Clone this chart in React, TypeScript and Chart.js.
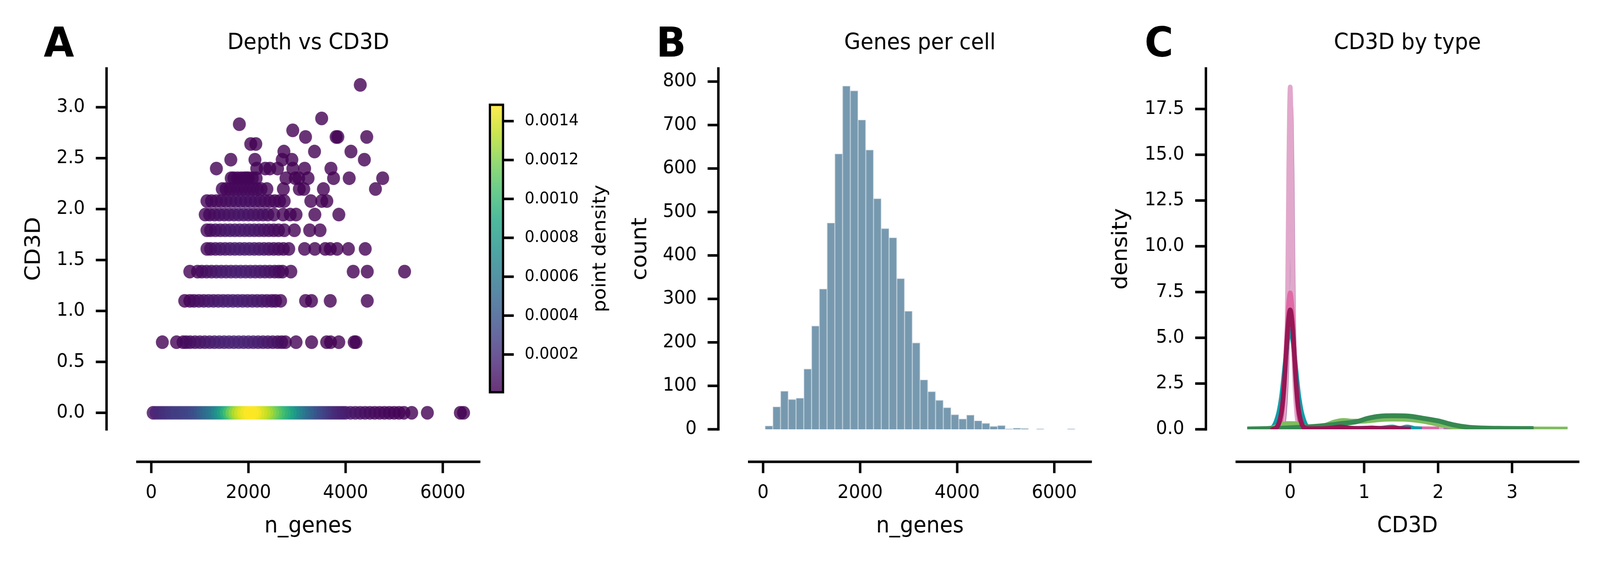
import React, { useEffect, useRef } from 'react';
import { Chart, registerables } from 'chart.js';

Chart.register(...registerables);

const FONT = '"DejaVu Sans", "Liberation Sans", sans-serif';
Chart.defaults.font.family = FONT;
const W = 4321;
const H = 1440;

// ---------------- Panel A data: CD3D vs n_genes ----------------
const cd3dLevels = [0, 0.693, 1.099, 1.386, 1.609, 1.792, 1.946, 2.079, 2.197, 2.303, 2.398, 2.485, 2.565, 2.639, 2.708, 2.773, 2.833, 2.89, 3.219];

const genesByLevel = [
  [39, 100, 160, 220, 280, 340, 400, 460, 520, 580, 640, 700, 760, 820, 880, 940, 1000, 1060, 1120, 1180, 1240, 1300, 1360, 1420, 1480, 1540, 1600, 1660, 1720, 1780, 1840, 1900, 1960, 2020, 2080, 2140, 2200, 2260, 2320, 2380, 2440, 2500, 2560, 2620, 2680, 2740, 2800, 2860, 2920, 2980, 3040, 3100, 3160, 3220, 3280, 3340, 3400, 3460, 3520, 3580, 3640, 3700, 3760, 3820, 3880, 3940, 4000, 4100, 4200, 4300, 4400, 4500, 4600, 4700, 4800, 4900, 5000, 5100, 5200, 5360, 5683, 6362, 6428],
  [228, 520, 654, 720, 800, 900, 1000, 1100, 1200, 1300, 1400, 1500, 1600, 1700, 1800, 1900, 2000, 2100, 2200, 2300, 2400, 2500, 2600, 2684, 2760, 2980, 3300, 3610, 3690, 3860, 4176, 4214],
  [688, 793, 880, 980, 1080, 1180, 1280, 1380, 1480, 1580, 1680, 1780, 1880, 1980, 2080, 2180, 2280, 2380, 2480, 2560, 2662, 3176, 3298, 3684, 4446],
  [793, 952, 1040, 1140, 1240, 1340, 1440, 1540, 1640, 1740, 1840, 1940, 2040, 2140, 2240, 2340, 2440, 2540, 2626, 2700, 2873, 4157, 4446, 5214],
  [1146, 1220, 1320, 1420, 1520, 1620, 1720, 1820, 1920, 2020, 2120, 2220, 2320, 2420, 2520, 2620, 2720, 2830, 3155, 3367, 3580, 3684, 3824, 4058, 4404],
  [1146, 1220, 1320, 1420, 1520, 1620, 1720, 1820, 1920, 2020, 2120, 2220, 2320, 2420, 2521, 2620, 2736, 2946, 3260, 3474],
  [1110, 1200, 1300, 1400, 1500, 1600, 1700, 1800, 1900, 2000, 2100, 2200, 2300, 2400, 2521, 2714, 2860, 2980, 3367, 3861],
  [1146, 1240, 1340, 1440, 1540, 1640, 1740, 1840, 1940, 2040, 2140, 2240, 2340, 2440, 2540, 2640, 2736, 3284, 3509, 3614],
  [1461, 1540, 1620, 1700, 1780, 1860, 1940, 2020, 2100, 2180, 2260, 2380, 2719, 3047, 3139, 3543, 4615],
  [1645, 1700, 1775, 1850, 1915, 1960, 2002, 2080, 2159, 2772, 2964, 3034, 3227, 3752, 4074, 4763],
  [1340, 2170, 2345, 2440, 2600, 2913, 3157, 3698],
  [1637, 2134, 2695, 2894, 4386],
  [2730, 3360, 4110],
  [2047, 2152],
  [3175, 3805, 3840, 4435],
  [2912],
  [1813],
  [3507],
  [4302],
];

// point density, in units of 1e-4
const densityByLevel = [
  [0.45, 1.5, 1.8, 1.8, 2.1, 2.2, 2.4, 2.5, 2.7, 2.7, 2.8, 3.0, 3.0, 3.1, 3.4, 3.7, 4.0, 4.5, 4.9, 5.3, 5.8, 6.2, 7.0, 7.7, 8.6, 9.5, 10.5, 11.6, 12.5, 13.2, 13.8, 14.3, 14.6, 14.85, 14.85, 14.6, 14.1, 13.8, 13.4, 12.9, 12.3, 11.7, 11.1, 10.5, 9.9, 9.4, 8.8, 8.2, 7.4, 6.8, 6.2, 5.6, 5.0, 4.6, 4.2, 3.7, 3.4, 3.0, 2.7, 2.4, 2.1, 1.8, 1.6, 1.5, 1.3, 1.2, 1.0, 0.9, 0.74, 0.6, 0.52, 0.45, 0.37, 0.3, 0.22, 0.18, 0.15, 0.12, 0.09, 0.06, 0.03, 0.015, 0.015],
  [0.05, 0.15, 0.3, 0.4, 0.5, 0.6, 0.75, 0.9, 1.05, 1.2, 1.3, 1.4, 1.45, 1.5, 1.5, 1.45, 1.4, 1.3, 1.2, 1.05, 0.9, 0.7, 0.5, 0.35, 0.25, 0.15, 0.08, 0.05, 0.05, 0.04, 0.03, 0.03],
  [0.1, 0.2, 0.35, 0.5, 0.65, 0.8, 0.95, 1.05, 1.15, 1.2, 1.25, 1.25, 1.2, 1.15, 1.05, 0.95, 0.8, 0.65, 0.5, 0.35, 0.25, 0.1, 0.08, 0.05, 0.02],
  [0.12, 0.25, 0.4, 0.55, 0.7, 0.85, 1.0, 1.1, 1.2, 1.25, 1.25, 1.2, 1.15, 1.05, 0.9, 0.75, 0.6, 0.45, 0.3, 0.2, 0.12, 0.03, 0.02, 0.01],
  [0.35, 0.5, 0.65, 0.8, 0.95, 1.05, 1.15, 1.2, 1.2, 1.15, 1.05, 0.95, 0.8, 0.65, 0.5, 0.38, 0.28, 0.2, 0.1, 0.07, 0.05, 0.05, 0.04, 0.03, 0.02],
  [0.3, 0.42, 0.55, 0.68, 0.8, 0.9, 0.98, 1.02, 1.0, 0.95, 0.88, 0.78, 0.65, 0.5, 0.38, 0.28, 0.2, 0.12, 0.07, 0.05],
  [0.22, 0.32, 0.42, 0.52, 0.62, 0.7, 0.76, 0.8, 0.8, 0.76, 0.7, 0.62, 0.52, 0.4, 0.28, 0.16, 0.1, 0.08, 0.04, 0.02],
  [0.15, 0.22, 0.3, 0.38, 0.45, 0.52, 0.56, 0.58, 0.58, 0.55, 0.5, 0.44, 0.36, 0.28, 0.2, 0.14, 0.1, 0.04, 0.03, 0.03],
  [0.18, 0.24, 0.28, 0.32, 0.35, 0.36, 0.36, 0.34, 0.31, 0.27, 0.22, 0.16, 0.08, 0.05, 0.04, 0.02, 0.005],
  [0.18, 0.2, 0.23, 0.25, 0.26, 0.26, 0.25, 0.23, 0.2, 0.08, 0.06, 0.05, 0.04, 0.02, 0.01, 0.005],
  [0.06, 0.14, 0.12, 0.1, 0.08, 0.05, 0.04, 0.02],
  [0.08, 0.1, 0.06, 0.05, 0.01],
  [0.04, 0.03, 0.01],
  [0.06, 0.06],
  [0.03, 0.02, 0.02, 0.01],
  [0.03],
  [0.04],
  [0.02],
  [0.005],
];

const aXTicks = [0, 2000, 4000, 6000];
const aYTicks = [0, 0.5, 1.0, 1.5, 2.0, 2.5, 3.0];
const cbTicks = [0.0002, 0.0004, 0.0006, 0.0008, 0.001, 0.0012, 0.0014];
const cbMin = 0.000006;
const cbMax = 0.001484;

// ---------------- Panel B data: genes per cell histogram ----------------
const histStart = 40;
const histBinWidth = 159.7;
const histCounts = [8, 52, 88, 69, 72, 139, 238, 323, 475, 634, 790, 779, 712, 643, 531, 462, 441, 347, 272, 199, 114, 87, 67, 50, 34, 24, 33, 20, 14, 7, 9, 1, 3, 2, 0, 1, 0, 0, 0, 1];
const bXTicks = [0, 2000, 4000, 6000];
const bYTicks = [0, 100, 200, 300, 400, 500, 600, 700, 800];

// ---------------- Panel C data: CD3D density by type ----------------
const kdeMagenta = [[-0.23, 0], [-0.2, 0.05], [-0.17, 0.18], [-0.14, 0.5], [-0.11, 1.15], [-0.08, 2.5], [-0.05, 4.5], [-0.025, 5.9], [0, 6.52], [0.025, 5.9], [0.05, 4.5], [0.08, 2.5], [0.11, 1.15], [0.14, 0.5], [0.17, 0.18], [0.2, 0.06], [0.26, 0.03], [0.4, 0.03], [0.55, 0.06], [0.68, 0.12], [0.8, 0.06], [0.95, 0.04], [1.1, 0.07], [1.25, 0.04], [1.4, 0.06], [1.52, 0.03], [1.6, 0.02]];
const kdeDarkGreen = [[-0.55, 0.02], [-0.3, 0.04], [0, 0.08], [0.3, 0.15], [0.5, 0.22], [0.7, 0.32], [0.9, 0.42], [1.05, 0.6], [1.2, 0.71], [1.4, 0.74], [1.6, 0.72], [1.8, 0.6], [2.0, 0.46], [2.2, 0.25], [2.4, 0.12], [2.6, 0.07], [2.9, 0.05], [3.26, 0.04]];
const kdeLightGreen = [[-0.55, 0.01], [-0.4, 0.02], [-0.25, 0.07], [-0.15, 0.2], [-0.05, 0.31], [0.05, 0.31], [0.15, 0.2], [0.3, 0.07], [0.45, 0.18], [0.6, 0.4], [0.72, 0.48], [0.85, 0.44], [1.0, 0.45], [1.2, 0.53], [1.4, 0.56], [1.6, 0.54], [1.8, 0.44], [2.0, 0.28], [2.2, 0.13], [2.4, 0.05], [2.7, 0.02], [3.2, 0.015], [3.72, 0.01]];
const kdeTeal = [[-0.27, 0], [-0.24, 0.08], [-0.21, 0.25], [-0.18, 0.55], [-0.15, 1.0], [-0.12, 1.7], [-0.09, 2.75], [-0.06, 3.95], [-0.03, 5.0], [0, 5.4], [0.03, 5.0], [0.06, 3.95], [0.09, 2.75], [0.12, 1.7], [0.15, 1.0], [0.18, 0.55], [0.21, 0.25], [0.24, 0.08], [0.3, 0.03], [0.5, 0.03], [0.68, 0.09], [0.85, 0.04], [1.05, 0.06], [1.2, 0.05], [1.38, 0.12], [1.48, 0.05], [1.58, 0.12], [1.68, 0.04], [1.75, 0.02]];
const kdeHotPink = [[-0.2, 0], [-0.16, 0.08], [-0.13, 0.35], [-0.1, 1.3], [-0.08, 2.45], [-0.06, 4.0], [-0.04, 5.6], [-0.02, 6.9], [0, 7.45], [0.02, 6.9], [0.04, 5.6], [0.06, 4.0], [0.08, 2.45], [0.1, 1.3], [0.13, 0.35], [0.16, 0.08], [0.2, 0.02], [0.45, 0.02], [0.6, 0.09], [0.69, 0.16], [0.8, 0.07], [1.0, 0.04], [1.3, 0.04], [1.6, 0.03], [1.98, 0.02]];
const kdeLightPink = [[-0.15, 0], [-0.12, 0.1], [-0.1, 0.4], [-0.085, 1.0], [-0.07, 1.9], [-0.055, 3.2], [-0.04, 6.0], [-0.03, 10.0], [-0.02, 14.2], [-0.01, 17.4], [0, 18.7], [0.01, 17.4], [0.02, 14.2], [0.03, 10.0], [0.04, 6.0], [0.055, 3.2], [0.07, 1.9], [0.085, 1.0], [0.1, 0.4], [0.12, 0.1], [0.15, 0.02], [0.6, 0.02], [1.2, 0.02], [1.6, 0.02], [2.044, 0.01]];
const kdePurple = [[-0.14, 0], [-0.11, 0.1], [-0.09, 0.4], [-0.075, 1.0], [-0.06, 2.0], [-0.045, 3.6], [-0.035, 6.0], [-0.025, 9.8], [-0.015, 14.0], [-0.005, 16.9], [0.005, 17.7], [0.015, 16.9], [0.025, 14.0], [0.035, 9.8], [0.045, 6.0], [0.06, 3.6], [0.075, 2.0], [0.09, 1.0], [0.11, 0.4], [0.13, 0.1], [0.16, 0.02], [0.8, 0.02], [1.5, 0.02], [2.18, 0.01]];
const cXTicks = [0, 1, 2, 3];
const cYTicks = [0, 2.5, 5, 7.5, 10, 12.5, 15, 17.5];

// ---------------- layout (pixels) ----------------
const areaA = { left: 371, right: 1294, top: 175.6, bottom: 1100 };
const areaB = { left: 2023.3, right: 2945.4, top: 175.6, bottom: 1100 };
const areaC = { left: 3340, right: 4262, top: 175.6, bottom: 1100 };
const areaCb = { left: 1323, right: 1358.5, top: 268.5, bottom: 1005 };
const OFFSET = 83.3;
const TICK = 29;
const LW = 6.6;
const TICK_FONT = 48;
const LABEL_FONT = 57;
const Y_BOX = 320; // room for the y tick labels (left)
const X_BOX = 230; // room for the x tick labels (bottom)
const CB_BOX = 240; // room for the colorbar tick labels (right)
const Y_PAD = OFFSET + 58.5;
const X_PAD = 134.7;

const VIRIDIS = ['#440154', '#482475', '#414487', '#355f8d', '#2a788e', '#21918c', '#22a884', '#44bf70', '#7ad151', '#bddf26', '#fde725'];
function hexRgb(h: string) {
  return [parseInt(h.slice(1, 3), 16), parseInt(h.slice(3, 5), 16), parseInt(h.slice(5, 7), 16)];
}
function viridis(t: number, a: number) {
  const tt = Math.min(1, Math.max(0, t)) * (VIRIDIS.length - 1);
  const i = Math.min(Math.floor(tt), VIRIDIS.length - 2);
  const f = tt - i;
  const c0 = hexRgb(VIRIDIS[i]);
  const c1 = hexRgb(VIRIDIS[i + 1]);
  const c = c0.map((v, k) => Math.round(v + (c1[k] - v) * f));
  return `rgba(${c[0]},${c[1]},${c[2]},${a})`;
}

function baseOptions(area: any, boxes: { left?: number; right?: number; bottom?: number }) {
  return {
    responsive: false,
    animation: false as const,
    devicePixelRatio: 1,
    events: [] as any[],
    layout: {
      autoPadding: false,
      padding: {
        left: area.left - (boxes.left || 0),
        right: W - area.right - (boxes.right || 0),
        top: area.top,
        bottom: H - area.bottom - (boxes.bottom || 0),
      },
    },
    plugins: { legend: { display: false }, title: { display: false }, tooltip: { enabled: false } },
  };
}

function axis(pos: string, min: number, max: number, ticks: number[], fmt: (v: number) => string, pad: number, size: number, box: number) {
  const vertical = pos === 'left' || pos === 'right';
  return {
    type: 'linear',
    position: pos,
    min,
    max,
    offset: false,
    afterFit: (s: any) => {
      if (vertical) s.width = box;
      else s.height = box;
    },
    afterBuildTicks: (s: any) => {
      s.ticks = ticks.map((v) => ({ value: v }));
    },
    grid: { display: false, drawTicks: false, offset: false },
    border: { display: false },
    ticks: {
      padding: pad,
      color: '#000',
      font: { family: FONT, size },
      maxRotation: 0,
      minRotation: 0,
      autoSkip: false,
      callback: (v: any) => fmt(Number(v)),
    },
  };
}

function decoPlugin(d: any) {
  return {
    id: 'deco',
    afterDraw(chart: any) {
      const { ctx, chartArea: a, scales } = chart;
      const xs = scales.x;
      const ys = scales.y;
      const sx = a.left - OFFSET;
      const sy = a.bottom + OFFSET;
      ctx.save();
      ctx.strokeStyle = '#000';
      ctx.lineWidth = LW;
      ctx.lineCap = 'square';
      ctx.beginPath();
      ctx.moveTo(sx, a.top);
      ctx.lineTo(sx, a.bottom);
      ctx.stroke();
      ctx.beginPath();
      ctx.moveTo(a.left, sy);
      ctx.lineTo(a.right, sy);
      ctx.stroke();
      ctx.lineCap = 'butt';
      for (const v of d.yTicks) {
        const y = ys.getPixelForValue(v);
        ctx.beginPath();
        ctx.moveTo(sx - TICK, y);
        ctx.lineTo(sx, y);
        ctx.stroke();
      }
      for (const v of d.xTicks) {
        const x = xs.getPixelForValue(v);
        ctx.beginPath();
        ctx.moveTo(x, sy);
        ctx.lineTo(x, sy + TICK);
        ctx.stroke();
      }
      ctx.fillStyle = '#000';
      ctx.font = `${LABEL_FONT}px ${FONT}`;
      ctx.textAlign = 'center';
      ctx.textBaseline = 'alphabetic';
      const cx = (a.left + a.right) / 2;
      ctx.fillText(d.title, cx, 126);
      ctx.fillText(d.xLabel, cx, 1364);
      ctx.save();
      ctx.translate(d.yLabelX, (a.top + a.bottom) / 2);
      ctx.rotate(-Math.PI / 2);
      ctx.fillText(d.yLabel, 0, 0);
      ctx.restore();
      ctx.font = `bold 106px ${FONT}`;
      ctx.textAlign = 'left';
      ctx.fillText(d.letter, d.letterX, 145);
      ctx.restore();
    },
  };
}

const colorbarPlugin = {
  id: 'cbdeco',
  afterDraw(chart: any) {
    const { ctx, chartArea: a, scales } = chart;
    ctx.save();
    ctx.strokeStyle = '#000';
    ctx.lineWidth = 6;
    ctx.strokeRect(a.left, a.top, a.right - a.left, a.bottom - a.top);
    ctx.lineWidth = LW;
    for (const v of cbTicks) {
      const y = scales.y.getPixelForValue(v);
      ctx.beginPath();
      ctx.moveTo(a.right, y);
      ctx.lineTo(a.right + TICK, y);
      ctx.stroke();
    }
    ctx.fillStyle = '#000';
    ctx.font = `50px ${FONT}`;
    ctx.textAlign = 'center';
    ctx.textBaseline = 'alphabetic';
    ctx.translate(1635, (a.top + a.bottom) / 2);
    ctx.rotate(-Math.PI / 2);
    ctx.fillText('point density', 0, 0);
    ctx.restore();
  },
};

function buildScatter() {
  const pts: { x: number; y: number; d: number }[] = [];
  cd3dLevels.forEach((lv, i) => {
    genesByLevel[i].forEach((g, j) => {
      pts.push({ x: g, y: lv, d: densityByLevel[i][j] * 1e-4 });
    });
  });
  pts.sort((p, q) => p.d - q.d);
  return {
    data: pts.map((p) => ({ x: p.x, y: p.y })),
    colors: pts.map((p) => viridis((p.d - cbMin) / (cbMax - cbMin), 0.8)),
  };
}

function kdeSet(points: number[][], color: string) {
  return {
    data: points.map((p) => ({ x: p[0], y: p[1] })),
    borderColor: color,
    backgroundColor: color,
    borderWidth: 12.5,
    pointRadius: 0,
    fill: false,
    cubicInterpolationMode: 'monotone',
    borderJoinStyle: 'round',
    borderCapStyle: 'square',
    clip: 0,
  };
}

export default function App() {
  const aRef = useRef<HTMLCanvasElement>(null);
  const cbRef = useRef<HTMLCanvasElement>(null);
  const bRef = useRef<HTMLCanvasElement>(null);
  const cRef = useRef<HTMLCanvasElement>(null);

  useEffect(() => {
    const charts: Chart[] = [];
    const sc = buildScatter();

    charts.push(
      new Chart(aRef.current as HTMLCanvasElement, {
        type: 'scatter',
        data: {
          datasets: [
            {
              data: sc.data,
              pointBackgroundColor: sc.colors,
              pointBorderWidth: 0,
              pointRadius: 17.5,
              pointHoverRadius: 17.5,
            } as any,
          ],
        },
        options: {
          ...baseOptions(areaA, { left: Y_BOX, bottom: X_BOX }),
          scales: {
            x: axis('bottom', -286, 6749, aXTicks, (v) => String(v), X_PAD, TICK_FONT, X_BOX),
            y: axis('left', -0.162, 3.38, aYTicks, (v) => v.toFixed(1), Y_PAD, TICK_FONT, Y_BOX),
          },
        } as any,
        plugins: [
          decoPlugin({ yTicks: aYTicks, xTicks: aXTicks, title: 'Depth vs CD3D', xLabel: 'n_genes', yLabel: 'CD3D', yLabelX: 108, letter: 'A', letterX: 118 }),
        ],
      })
    );

    charts.push(
      new Chart(cbRef.current as HTMLCanvasElement, {
        type: 'bar',
        data: {
          labels: [''],
          datasets: [
            {
              data: [[cbMin, cbMax]],
              borderWidth: 0,
              barPercentage: 1,
              categoryPercentage: 1,
              backgroundColor: (context: any) => {
                const area = context.chart.chartArea;
                if (!area) return 'rgba(0,0,0,0)';
                const g = context.chart.ctx.createLinearGradient(0, area.bottom, 0, area.top);
                for (let k = 0; k <= 20; k++) g.addColorStop(k / 20, viridis(k / 20, 0.8));
                return g;
              },
            } as any,
          ],
        },
        options: {
          ...baseOptions(areaCb, { right: CB_BOX }),
          scales: {
            x: { display: false },
            y: axis('right', cbMin, cbMax, cbTicks, (v) => v.toFixed(4), 58.5, 41.7, CB_BOX),
          },
        } as any,
        plugins: [colorbarPlugin],
      })
    );

    charts.push(
      new Chart(bRef.current as HTMLCanvasElement, {
        type: 'bar',
        data: {
          datasets: [
            {
              data: histCounts.map((c, i) => ({ x: histStart + histBinWidth * (i + 0.5), y: c })),
              backgroundColor: '#7799af',
              borderColor: '#c3d3de',
              borderWidth: 1.6,
              barPercentage: 1,
              categoryPercentage: 1,
              grouped: false,
            } as any,
          ],
        },
        options: {
          ...baseOptions(areaB, { left: Y_BOX, bottom: X_BOX }),
          scales: {
            x: axis('bottom', -286, 6749, bXTicks, (v) => String(v), X_PAD, TICK_FONT, X_BOX),
            y: axis('left', 0, 830, bYTicks, (v) => String(v), Y_PAD, TICK_FONT, Y_BOX),
          },
        } as any,
        plugins: [
          decoPlugin({ yTicks: bYTicks, xTicks: bXTicks, title: 'Genes per cell', xLabel: 'n_genes', yLabel: 'count', yLabelX: 1745, letter: 'B', letterX: 1772 }),
        ],
      })
    );

    charts.push(
      new Chart(cRef.current as HTMLCanvasElement, {
        type: 'line',
        data: {
          datasets: [
            kdeSet(kdeMagenta, '#971654'),
            kdeSet(kdeDarkGreen, '#378851'),
            kdeSet(kdeLightGreen, '#7fbc5f'),
            kdeSet(kdeTeal, '#0f9da6'),
            kdeSet(kdeHotPink, '#de6aa6'),
            kdeSet(kdeLightPink, '#e1a8cb'),
            kdeSet(kdePurple, '#a874a9'),
          ] as any,
        },
        options: {
          ...baseOptions(areaC, { left: Y_BOX, bottom: X_BOX }),
          scales: {
            x: axis('bottom', -0.7226, 3.894, cXTicks, (v) => String(v), X_PAD, TICK_FONT, X_BOX),
            y: axis('left', 0, 19.71, cYTicks, (v) => v.toFixed(1), Y_PAD, TICK_FONT, Y_BOX),
          },
        } as any,
        plugins: [
          decoPlugin({ yTicks: cYTicks, xTicks: cXTicks, title: 'CD3D by type', xLabel: 'CD3D', yLabel: 'density', yLabelX: 3043, letter: 'C', letterX: 3091 }),
        ],
      })
    );

    return () => {
      charts.forEach((c) => c.destroy());
    };
  }, []);

  const cs: React.CSSProperties = { position: 'absolute', left: 0, top: 0, width: '100vw', height: '100vh', display: 'block' };
  return (
    <div style={{ position: 'fixed', left: 0, top: 0, width: '100vw', height: '100vh', background: '#ffffff', overflow: 'hidden' }}>
      <canvas ref={aRef} width={W} height={H} style={cs} />
      <canvas ref={cbRef} width={W} height={H} style={cs} />
      <canvas ref={bRef} width={W} height={H} style={cs} />
      <canvas ref={cRef} width={W} height={H} style={cs} />
    </div>
  );
}
